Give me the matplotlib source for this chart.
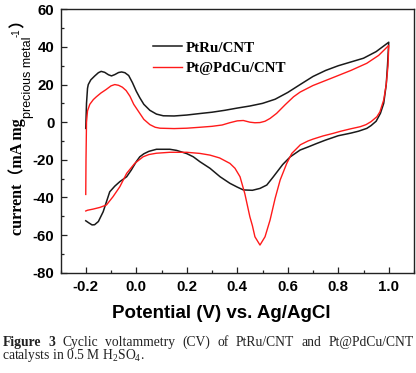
import matplotlib
matplotlib.use('Agg')
import matplotlib.pyplot as plt
from matplotlib.ticker import MultipleLocator, FormatStrFormatter

plt.rcParams['axes.unicode_minus'] = False

# PtRu/CNT, forward sweep then back
v_ptru = [-0.200, -0.197, -0.193, -0.190, -0.180, -0.165, -0.150, -0.139, -0.125, -0.110,
          -0.098, -0.085, -0.070, -0.058, -0.045, -0.030, -0.015, 0.000, 0.014, 0.030,
          0.054, 0.080, 0.107, 0.150, 0.200, 0.252, 0.300, 0.350, 0.400, 0.450,
          0.500, 0.550, 0.600, 0.649, 0.700, 0.750, 0.800, 0.850, 0.900, 0.950, 1.000,
          0.995, 0.990, 0.980, 0.967, 0.950, 0.930, 0.913, 0.880, 0.850, 0.800,
          0.750, 0.715, 0.680, 0.649, 0.610, 0.580, 0.543, 0.517, 0.490, 0.460,
          0.424, 0.400, 0.371, 0.332, 0.292, 0.252, 0.226, 0.200, 0.160, 0.133,
          0.080, 0.050, 0.030, 0.014, 0.000, -0.020, -0.038, -0.065, -0.085, -0.105,
          -0.118, -0.131, -0.150, -0.165, -0.175, -0.188, -0.200]
i_ptru = [-3.3, 10.0, 18.0, 20.0, 22.5, 24.5, 26.3, 27.0, 26.5, 25.2,
          24.6, 25.3, 26.4, 26.7, 26.3, 24.8, 21.0, 16.5, 13.0, 9.5,
          6.3, 4.3, 3.4, 3.3, 3.8, 4.6, 5.3, 6.3, 7.5, 8.6,
          10.0, 12.2, 15.8, 20.0, 24.3, 27.5, 30.0, 32.0, 34.0, 37.5, 42.5,
          30.0, 20.0, 10.0, 4.7, 0.5, -1.8, -3.3, -4.8, -5.8, -7.2,
          -9.5, -11.3, -13.2, -14.8, -18.4, -22.5, -29.0, -33.4, -35.2, -36.2,
          -36.0, -34.5, -32.5, -29.0, -24.5, -21.0, -18.4, -16.7, -15.0, -14.4,
          -14.4, -15.5, -16.8, -18.4, -21.0, -25.5, -29.0, -31.6, -34.0, -37.0,
          -42.3, -47.6, -52.8, -54.5, -54.6, -53.5, -52.4]

# Pt@PdCu/CNT, forward sweep then back
v_ptpdcu = [-0.200, -0.199, -0.197, -0.193, -0.184, -0.170, -0.158, -0.140, -0.120, -0.100,
            -0.085, -0.070, -0.055, -0.040, -0.025, -0.010, 0.014, 0.030, 0.054, 0.075,
            0.094, 0.150, 0.200, 0.252, 0.300, 0.340, 0.370, 0.400, 0.424, 0.450,
            0.470, 0.490, 0.510, 0.530, 0.556, 0.590, 0.623, 0.649, 0.700, 0.781,
            0.850, 0.913, 0.960, 1.000,
            0.997, 0.990, 0.980, 0.965, 0.953, 0.930, 0.910, 0.887, 0.850, 0.810,
            0.781, 0.740, 0.700, 0.680, 0.650, 0.616, 0.596, 0.570, 0.550, 0.530,
            0.510, 0.490, 0.470, 0.460, 0.450, 0.430, 0.411, 0.391, 0.371, 0.330,
            0.292, 0.252, 0.200, 0.133, 0.080, 0.050, 0.027, -0.006, -0.038, -0.065,
            -0.092, -0.118, -0.144, -0.171, -0.193, -0.200]
i_ptpdcu = [-38.4, -20.0, 0.0, 6.0, 9.5, 12.0, 13.5, 15.5, 17.3, 19.3,
            20.0, 19.6, 18.6, 16.8, 13.8, 9.5, 4.7, 1.5, -1.3, -2.7,
            -3.2, -3.4, -3.2, -2.7, -2.2, -1.5, -0.3, 0.7, 0.9, 0.0,
            -0.3, -0.2, 0.5, 2.0, 4.7, 9.3, 13.5, 16.0, 19.5, 23.8,
            27.5, 31.3, 35.5, 40.8,
            30.0, 20.0, 11.8, 5.5, 2.9, 0.3, -1.3, -2.4, -3.5, -4.8,
            -5.9, -7.3, -9.0, -10.0, -12.0, -16.6, -21.9, -30.7, -40.5, -52.0,
            -60.9, -65.3, -60.9, -55.0, -50.3, -38.0, -29.0, -24.5, -21.9, -19.0,
            -17.5, -16.6, -16.0, -16.0, -16.5, -17.2, -18.4, -21.9, -27.2, -34.3,
            -39.6, -44.0, -45.3, -46.2, -46.8, -47.2]

labels = ['PtRu/CNT', 'Pt@PdCu/CNT']
colors = ['#1a1a1a', '#ff1a1a']
x_ticks = [-0.2, 0.0, 0.2, 0.4, 0.6, 0.8, 1.0]
y_ticks = [-80, -60, -40, -20, 0, 20, 40, 60]

W, H = 416, 373
fig = plt.figure(figsize=(W / 100, H / 100), dpi=100)


def fx(x):
    return x / W


def fy(y):
    return 1 - y / H


ax = fig.add_axes([fx(60.5), fy(272.7), (414 - 60.5) / W, (272.7 - 9.3) / H])
ax.plot(v_ptru, i_ptru, color=colors[0], lw=1.1, label=labels[0])
ax.plot(v_ptpdcu, i_ptpdcu, color=colors[1], lw=1.0, label=labels[1])

ax.set_xlim(-0.3, 1.1)
ax.set_ylim(-80, 60)
ax.set_xticks(x_ticks)
ax.set_yticks(y_ticks)
ax.xaxis.set_major_formatter(FormatStrFormatter('%.1f'))
ax.xaxis.set_minor_locator(MultipleLocator(0.1))
ax.yaxis.set_minor_locator(MultipleLocator(10))
ax.tick_params(which='both', direction='in', top=False, right=False, width=0.9, color='#222222')
ax.tick_params(which='major', length=4)
ax.tick_params(which='minor', length=2.2)
ax.tick_params(axis='x', pad=5)
ax.tick_params(axis='y', pad=4.5)
for lab in ax.get_xticklabels() + ax.get_yticklabels():
    lab.set_fontfamily('Liberation Sans')
    lab.set_fontweight('bold')
    lab.set_fontsize(10.8)
for sp in ax.spines.values():
    sp.set_linewidth(1.0)
    sp.set_color('#222222')

ax.legend(loc='upper left', bbox_to_anchor=((153 - 60.5) / 353.5, 1 - (41 - 9.3) / 263.4),
          frameon=False, borderpad=0, borderaxespad=0, handlelength=1.95,
          handletextpad=0.25, labelspacing=0.45,
          prop={'family': 'Liberation Serif', 'weight': 'bold', 'size': 10.8})

# x label
fig.text(fx(221), fy(318), 'Potential (V) vs. Ag/AgCl', ha='center', va='baseline',
         family='Liberation Sans', weight='bold', size=13.5)

# y label, built from pieces
r = fig.canvas.get_renderer()
serif_cjk = ['Liberation Serif', 'Noto Sans CJK SC']
t1 = fig.text(fx(22.5), fy(235), 'current（mA mg', rotation=90, rotation_mode='anchor',
              ha='left', va='baseline', family=serif_cjk, weight='bold', size=11.5)
y_next = t1.get_window_extent(r).y1 / H
t2 = fig.text(fx(31), y_next, 'precious metal', rotation=90, rotation_mode='anchor',
              ha='left', va='baseline', family='Liberation Sans', size=9)
y_next = t2.get_window_extent(r).y1 / H
t3 = fig.text(fx(20), y_next, '-1', rotation=90, rotation_mode='anchor',
              ha='left', va='baseline', family='Liberation Sans', size=7)
y_next = t3.get_window_extent(r).y1 / H
fig.text(fx(22.5), y_next, '）', rotation=90, rotation_mode='anchor',
         ha='left', va='baseline', family=serif_cjk, weight='bold', size=11.5)

# caption, first line justified
cap_words = [('Figure', 'bold'), ('3', 'bold'), ('Cyclic', 'normal'), ('voltammetry', 'normal'),
             ('(CV)', 'normal'), ('of', 'normal'), ('PtRu/CNT', 'normal'), ('and', 'normal'),
             ('Pt@PdCu/CNT', 'normal')]
cap_font = dict(family='Liberation Serif', size=9.8, va='baseline', ha='left', color='#222222')
left, right = 2.5, 413.5
words = [fig.text(0, fy(346), w, weight=wt, **cap_font) for w, wt in cap_words]
widths = [t.get_window_extent(r).width for t in words]
gap = (right - left - sum(widths)) / (len(words) - 1)
x = left
for t, w in zip(words, widths):
    t.set_x(fx(x))
    x += w + gap
fig.text(fx(left), fy(359.5), r'catalysts in 0.5 M H$_\mathregular{2}$SO$_\mathregular{4}$.', **cap_font)

fig.savefig('out.png', dpi=100)
